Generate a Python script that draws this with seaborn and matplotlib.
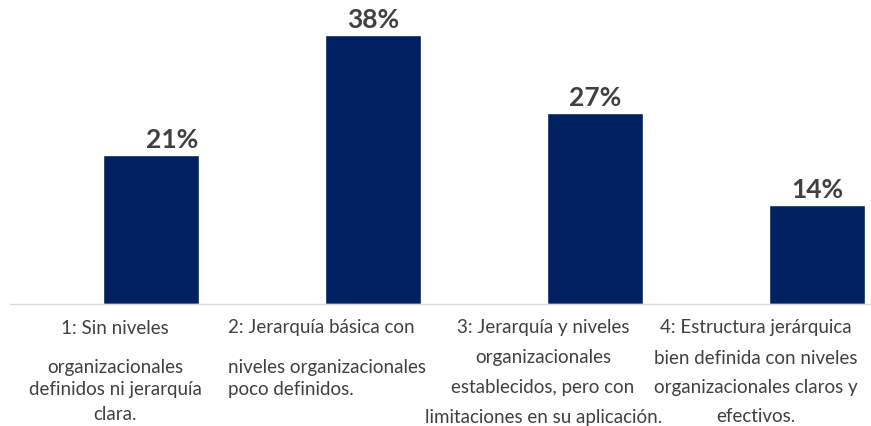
import matplotlib
matplotlib.use("Agg")
import matplotlib.pyplot as plt
import seaborn as sns
import pandas as pd
from matplotlib.transforms import offset_copy, blended_transform_factory

categories = [
    "1: Sin niveles\norganizacionales\ndefinidos ni jerarquía\nclara.",
    "2: Jerarquía básica con\nniveles organizacionales\npoco definidos.",
    "3: Jerarquía y niveles\norganizacionales\nestablecidos, pero con\nlimitaciones en su aplicación.",
    "4: Estructura jerárquica\nbien definida con niveles\norganizacionales claros y\nefectivos.",
]
values = [21, 38, 27, 14]
value_labels = ["21%", "38%", "27%", "14%"]

sns.set_theme(style="white")
plt.rcParams["font.family"] = ["Lato", "DejaVu Sans"]

df = pd.DataFrame({"cat": categories, "val": values})

fig = plt.figure(figsize=(8.71, 4.27), dpi=100)
ax = fig.add_axes([10 / 871, 1 - 305 / 427, 861 / 871, (305 - 22) / 427])

sns.barplot(data=df, x="cat", y="val", color="#002060", width=0.43,
            saturation=1, ax=ax, zorder=2)

ax.set_ylim(0, 40)
ax.set_xlim(-0.635, 3.243)

# value labels
for i, (v, lab) in enumerate(zip(values, value_labels)):
    dx = 0.095 if i == 0 else 0.0
    ax.text(i + dx, v, lab, ha="center", va="bottom", fontsize=19,
            fontweight="bold", color="#404040",
            transform=offset_copy(ax.transData, fig=fig, y=4, units="dots"))

# category labels below the axis (layout: x shift, alignment, line y offsets in px)
label_dx = [-0.162, -0.653, -0.234, -0.275]
label_ha = ["center", "left", "center", "center"]
line_offsets = [
    [23, 62, 85, 110],
    [23, 62, 85],
    [23, 53, 83, 112],
    [23, 53, 83, 112],
]
ax.set_xticks([])
for i, cat in enumerate(categories):
    trans = blended_transform_factory(ax.transData, ax.transAxes)
    for line, off in zip(cat.split("\n"), line_offsets[i]):
        ax.text(i + label_dx[i], 0, line, ha=label_ha[i], va="center",
                fontsize=13.5, color="#404040",
                transform=offset_copy(trans, fig=fig, y=-off, units="dots"))

ax.set_yticks([])
ax.set_xlabel("")
ax.set_ylabel("")

for s in ["top", "right", "left"]:
    ax.spines[s].set_visible(False)
ax.spines["bottom"].set_color("#d9d9d9")
ax.spines["bottom"].set_linewidth(1.0)

fig.savefig("out.png", dpi=100)
